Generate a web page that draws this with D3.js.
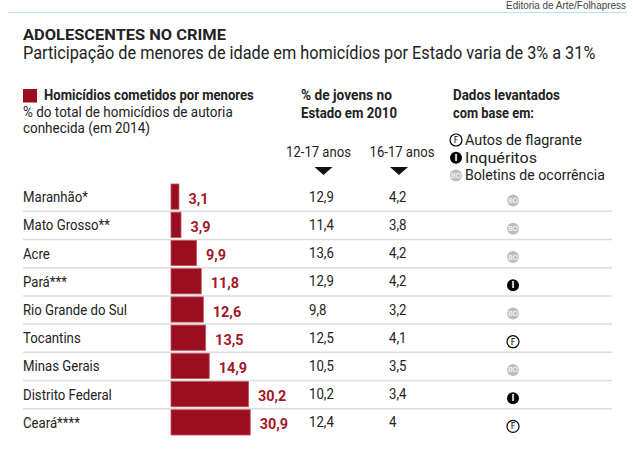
<!DOCTYPE html>
<html>
<head>
<meta charset="utf-8">
<script src="https://cdn.jsdelivr.net/npm/d3@7"></script>
<style>
  body { margin: 0; background: #fff; }
  svg { display: block; font-family: Roboto, "Noto Sans", sans-serif; }
</style>
</head>
<body>
<svg id="chart" width="633" height="472"></svg>
<script>
// dados (Folha, 2014)
const states = ['Maranhão*', 'Mato Grosso**', 'Acre', 'Pará***', 'Rio Grande do Sul', 'Tocantins', 'Minas Gerais', 'Distrito Federal', 'Ceará****'];
const homicides = [3.1, 3.9, 9.9, 11.8, 12.6, 13.5, 14.9, 30.2, 30.9];   // % cometidos por menores
const youth1217 = [12.9, 11.4, 13.6, 12.9, 9.8, 12.5, 10.5, 10.2, 12.4]; // % jovens 12-17 anos
const youth1617 = [4.2, 3.8, 4.2, 4.2, 3.2, 4.1, 3.5, 3.4, 4];          // % jovens 16-17 anos
const sources = ['BO', 'BO', 'BO', 'I', 'BO', 'F', 'BO', 'I', 'F'];
const sourceKeys = ['F', 'I', 'BO'];
const sourceNames = ['Autos de flagrante', 'Inquéritos', 'Boletins de ocorrência'];

const red = '#9b0e1f';
const ink = '#222';
const SX = 0.88; // the Folha font is condensed, squeeze Roboto a bit
const fmt = v => String(v).replace('.', ',');

const svg = d3.select('#chart');

// text helper: squeezed horizontally, optional fit to a width
function txt(str, x, y, size, opts = {}) {
  const t = svg.append('text')
    .style('font-size', size + 'px')
    .style('font-weight', opts.bold ? 'bold' : 'normal')
    .style('fill', opts.fill || ink)
    .attr('text-anchor', opts.anchor || 'start')
    .text(str);
  if (opts.family) t.style('font-family', opts.family);
  let sx = opts.sx || SX;
  if (opts.width) sx = opts.width / t.node().getComputedTextLength();
  t.attr('transform', `translate(${x},${y}) scale(${sx},1)`);
  return t;
}

// credit line + rule on top
txt('Editoria de Arte/Folhapress', 626, 9, 10, { anchor: 'end', fill: '#444', family: 'Liberation Sans, Arial, sans-serif', width: 120 });

svg.append('line')
  .attr('x1', 8).attr('x2', 627)
  .attr('y1', 12.5).attr('y2', 12.5)
  .attr('stroke', '#b3e2f0').attr('stroke-width', 1);

// title
txt('ADOLESCENTES NO CRIME', 23, 39.5, 15.5, { bold: true, width: 203 });
txt('Participação de menores de idade em homicídios por Estado varia de 3% a 31%', 23, 58.5, 18.5, { width: 573 });

// legend for bars
svg.append('rect')
  .attr('x', 23).attr('y', 89).attr('width', 14).attr('height', 13.5)
  .attr('fill', red);

txt('Homicídios cometidos por menores', 44, 100, 14.5, { bold: true, width: 210 });
txt('% do total de homicídios de autoria', 23, 116.5, 15, { width: 210 });
txt('conhecida (em 2014)', 23, 133.2, 15, { width: 127 });

// column headers
txt('% de jovens no', 301, 99.5, 14.5, { bold: true, width: 91 });
txt('Estado em 2010', 301, 117.5, 14.5, { bold: true, width: 96 });

const colX = [318.5, 402];
const triX = [323.5, 399];
['12-17 anos', '16-17 anos'].forEach((t, i) => {
  txt(t, colX[i], 157, 15, { anchor: 'middle', width: 65 });
  svg.append('path')
    .attr('d', `M${triX[i] - 9},167 L${triX[i] + 9},167 L${triX[i]},175 Z`)
    .attr('fill', '#111');
});

txt('Dados levantados', 453, 100, 14.5, { bold: true, width: 107 });
txt('com base em:', 453, 118, 14.5, { bold: true, width: 81 });

// source icon drawer
function drawIcon(key, cx, cy, r) {
  const fill = key === 'F' ? '#fff' : key === 'I' ? '#000' : '#bdbdbd';
  svg.append('circle')
    .attr('cx', cx).attr('cy', cy).attr('r', r)
    .attr('fill', fill)
    .attr('stroke', key === 'F' ? '#000' : 'none')
    .attr('stroke-width', 1.2);
  svg.append('text')
    .attr('x', cx).attr('y', cy)
    .attr('dy', '0.36em')
    .attr('text-anchor', 'middle')
    .style('font-family', 'DejaVu Sans, sans-serif')
    .style('font-size', key === 'BO' ? '7px' : '8px')
    .style('font-weight', key === 'I' ? 'bold' : 'normal')
    .style('fill', key === 'F' ? '#000' : '#fff')
    .text(key);
}

const legendW = [117, 72, 140];
sourceKeys.forEach((k, i) => {
  const cy = 140 + i * 17.7;
  drawIcon(k, 456, cy, 6);
  txt(sourceNames[i], 465, cy + 5, 15, { width: legendW[i] });
});

// rows
const y = d3.scaleBand().domain(states).range([183, 437]);
const x = d3.scaleLinear().domain([0, 31]).range([171, 250.5]);
const mid = d => y(d) + y.bandwidth() / 2;

// separators
svg.selectAll('line.sep')
  .data(states.slice(1))
  .enter()
  .append('line')
  .attr('class', 'sep')
  .attr('x1', 23).attr('x2', 612)
  .attr('y1', d => y(d)).attr('y2', d => y(d))
  .attr('stroke', '#dcdcdc').attr('stroke-width', 1.5);

states.forEach(s => txt(s, 23, mid(s) + 5, 15));

svg.selectAll('rect.bar')
  .data(homicides)
  .enter()
  .append('rect')
  .attr('class', 'bar')
  .attr('x', x(0))
  .attr('y', (d, i) => y(states[i]) + 1)
  .attr('width', d => x(d) - x(0))
  .attr('height', y.bandwidth() - 3)
  .attr('fill', red)
  .attr('stroke', '#c2525e').attr('stroke-width', 0.8);

homicides.forEach((d, i) => {
  txt(fmt(d), x(d) + 9.5, mid(states[i]) + 6.5, 15.5, { bold: true, fill: '#a3162a', sx: 0.93 });
});

youth1217.forEach((d, i) => txt(fmt(d), 309, mid(states[i]) + 4.5, 15));
youth1617.forEach((d, i) => txt(fmt(d), 389, mid(states[i]) + 4.5, 15));

sources.forEach((k, i) => drawIcon(k, 513, mid(states[i]) + 3.5, 6));
</script>
</body>
</html>
